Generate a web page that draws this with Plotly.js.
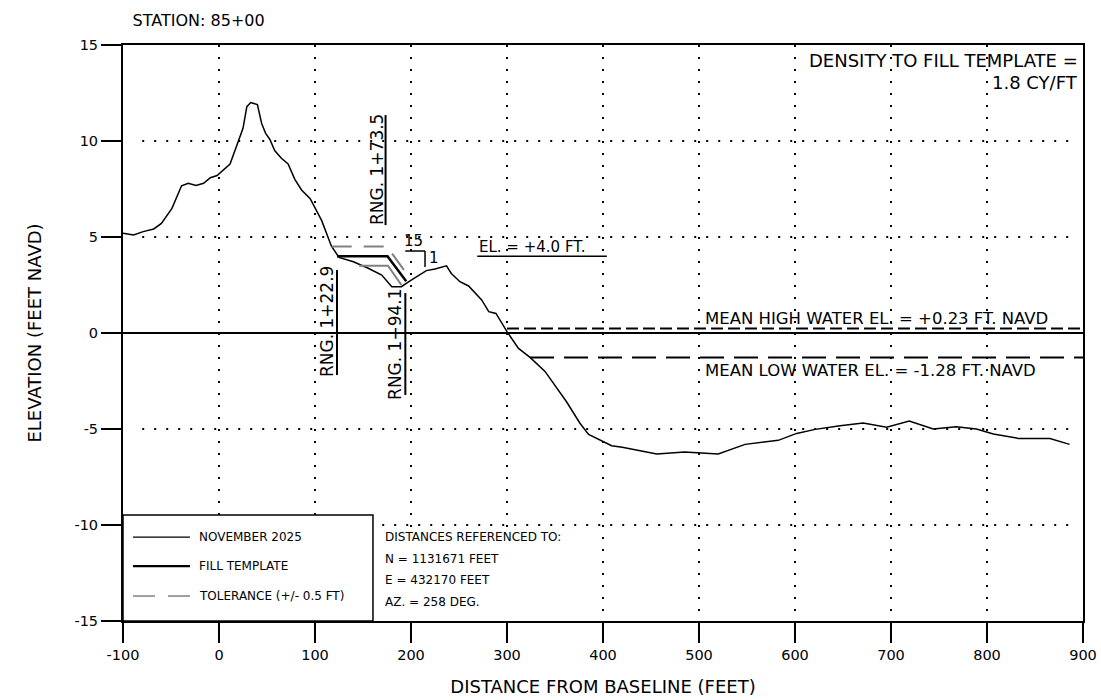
<!DOCTYPE html>
<html>
<head>
<meta charset="utf-8">
<script src="https://cdn.plot.ly/plotly-3.0.1.min.js"></script>
<style>html,body{margin:0;padding:0;background:#fff;}#chart{width:1101px;height:700px;}</style>
</head>
<body>
<div id="chart"></div>
<script>
// ---- Data ----
const profileX = [-100,-89,-79,-68,-60,-49,-39,-32,-24,-16,-9,-2,11.5,18,25,29,33,40,44.5,48.6,53,58,65,72,79,86,95,107,117,125,140,155.5,169.5,180,190,199,209,216,225,237,242,251,260,273.6,281,288.5,300,312,324,339.6,362,376,385,397,409,420,431.6,456,485,520,548,582.6,601.7,621,647,671,695.5,719,744,768,789,806.6,832.6,865.6,886];
const profileY = [5.2,5.1,5.28,5.42,5.71,6.49,7.67,7.8,7.69,7.8,8.09,8.2,8.8,9.7,10.66,11.79,12.0,11.9,10.9,10.4,10.08,9.5,9.1,8.8,8.0,7.45,7.0,5.85,4.53,3.94,3.71,3.37,3.02,2.41,2.41,2.72,3.02,3.25,3.33,3.5,3.1,2.67,2.45,1.72,1.11,1.02,0.07,-0.8,-1.27,-2.0,-3.58,-4.7,-5.28,-5.57,-5.87,-5.95,-6.06,-6.3,-6.2,-6.3,-5.8,-5.59,-5.23,-5.02,-4.83,-4.69,-4.91,-4.58,-5.0,-4.88,-5.0,-5.26,-5.49,-5.49,-5.8];

const templateX = [122.9, 175.5, 195];
const templateY = [4.0, 4.0, 2.7];
const tolUpperX = [117.4, 175, 199];
const tolUpperY = [4.5, 4.5, 2.85];
const tolLowerX = [146, 176, 190];
const tolLowerY = [3.5, 3.5, 2.5];

const mhwX = [300, 900];
const mhwEl = 0.23;
const mlwX = [324, 900];
const mlwEl = -1.28;

const rangeStations = [122.9, 173.5, 194.1];
const rangeLabels = ["RNG. 1+22.9", "RNG. 1+73.5", "RNG. 1+94.1"];

const xTicks = [-100,0,100,200,300,400,500,600,700,800,900];
const yTicks = [-15,-10,-5,0,5,10,15];
const gridX = [0,100,200,300,400,500,600,700,800];
const gridY = [10,5,-5,-10];

const legendItems = ["NOVEMBER 2025", "FILL TEMPLATE", "TOLERANCE (+/- 0.5 FT)"];
const refLines = ["DISTANCES REFERENCED TO:", "N = 1131671 FEET", "E = 432170 FEET", "AZ. = 258 DEG."];

// ---- Styling ----
const FONT = "DejaVu Sans, Verdana, sans-serif";
const GRAY = "#808080";
const DOT = "2px,10px";

const traces = [
  {x: profileX, y: profileY, mode: "lines", line: {color: "#000", width: 1.5}, name: legendItems[0]},
  {x: templateX, y: templateY, mode: "lines", line: {color: "#000", width: 2.5}, name: legendItems[1]},
  {x: tolUpperX, y: tolUpperY, mode: "lines", line: {color: GRAY, width: 2, dash: "20px,12px"}, name: legendItems[2]},
  {x: tolLowerX, y: tolLowerY, mode: "lines", line: {color: GRAY, width: 2}, name: legendItems[2]},
  {x: mhwX, y: mhwX.map(() => mhwEl), mode: "lines", line: {color: "#000", width: 2, dash: "12px,5px"}, name: "MHW"},
  {x: mlwX, y: mlwX.map(() => mlwEl), mode: "lines", line: {color: "#000", width: 2, dash: "24px,10px"}, name: "MLW"}
];

const shapes = [];
gridX.forEach(gx => {
  const bottom = (gx === 200 || gx === 300) ? -10.1 : -15;
  shapes.push({type: "line", xref: "x", yref: "y", x0: gx, x1: gx, y0: 15, y1: bottom, layer: "below", line: {color: "#000", width: 2, dash: DOT}});
});
gridY.forEach(gy => {
  shapes.push({type: "line", xref: "x", yref: "y", x0: -80, x1: 885, y0: gy, y1: gy, layer: "below", line: {color: "#000", width: 2, dash: DOT}});
});
shapes.push({type: "rect", xref: "x", yref: "y", x0: 160.4, x1: 394.8, y0: -10.16, y1: -15, layer: "below", fillcolor: "#fff", line: {width: 0}});
shapes.push({type: "rect", xref: "x", yref: "y", x0: -100, x1: 160.4, y0: -9.48, y1: -15, layer: "above", fillcolor: "#fff", line: {color: "#000", width: 1.5}});
shapes.push({type: "line", xref: "x", yref: "y", x0: -89.6, x1: -30.2, y0: -10.63, y1: -10.63, line: {color: "#000", width: 1.2}});
shapes.push({type: "line", xref: "x", yref: "y", x0: -89.6, x1: -30.2, y0: -12.14, y1: -12.14, line: {color: "#000", width: 2.2}});
shapes.push({type: "line", xref: "x", yref: "y", x0: -89.6, x1: -66.7, y0: -13.7, y1: -13.7, line: {color: GRAY, width: 1.5}});
shapes.push({type: "line", xref: "x", yref: "y", x0: -53.1, x1: -30.2, y0: -13.7, y1: -13.7, line: {color: GRAY, width: 1.5}});
const rngSpans = [[3.28, -2.19], [11.35, 5.62], [2.08, -3.23]];
rangeStations.forEach((s, i) => {
  shapes.push({type: "line", xref: "x", yref: "y", x0: s, x1: s, y0: rngSpans[i][0], y1: rngSpans[i][1], line: {color: "#000", width: 2}});
});
shapes.push({type: "line", xref: "x", yref: "y", x0: 269, x1: 404, y0: 4.0, y1: 4.0, line: {color: "#000", width: 1.5}});
shapes.push({type: "line", xref: "x", yref: "y", x0: 194, x1: 214.6, y0: 4.27, y1: 4.27, line: {color: "#000", width: 1.5}});
shapes.push({type: "line", xref: "x", yref: "y", x0: 214.6, x1: 214.6, y0: 4.27, y1: 3.44, line: {color: "#000", width: 1.5}});

const ann = [];
function A(o, size) { ann.push(Object.assign({xref: "x", yref: "y", showarrow: false, font: {family: FONT, size: size || 16, color: "#000"}}, o)); }
A({x: 900, y: 14.2, text: "DENSITY TO FILL TEMPLATE =", xanchor: "right", xshift: -3}, 18);
A({x: 900, y: 13.07, text: "1.8 CY/FT", xanchor: "right", xshift: -3}, 18);
A({x: 504, y: 0.78, text: "MEAN HIGH WATER EL. = +0.23 FT. NAVD", xanchor: "left"}, 16.5);
A({x: 504, y: -1.93, text: "MEAN LOW WATER EL. = -1.28 FT. NAVD", xanchor: "left"}, 16.5);
A({x: 269, y: 4.48, text: "EL. = +4.0 FT.", xanchor: "left"}, 15);
A({x: 203, y: 4.8, text: "15", xanchor: "center"}, 15);
A({x: 216.7, y: 3.9, text: "1", xanchor: "left"}, 15);
const rngText = [[112.5, 0.57], [164.6, 8.49], [183.3, -0.57]];
rangeLabels.forEach((t, i) => A({x: rngText[i][0], y: rngText[i][1], text: t, textangle: -90, xanchor: "center", yanchor: "middle"}, 17));
const legY = [-10.63, -12.14, -13.7];
legendItems.forEach((t, i) => A({x: -23, y: legY[i], text: t, xanchor: "left"}, 12));
const refY = [-10.63, -11.77, -12.86, -14.01];
refLines.forEach((t, i) => A({x: 170.8, y: refY[i], text: t, xanchor: "left"}, 12));

const layout = {
  width: 1101, height: 700,
  margin: {l: 123, r: 18, t: 45, b: 79},
  paper_bgcolor: "#fff", plot_bgcolor: "#fff",
  showlegend: false,
  font: {family: FONT, size: 14, color: "#000"},
  title: {text: "STATION: 85+00", font: {family: FONT, size: 16, color: "#000"}, xref: "paper", x: 0.01, xanchor: "left", yref: "container", y: 0.971, yanchor: "middle"},
  xaxis: {
    range: [-100, 900], tickmode: "array", tickvals: xTicks, ticktext: xTicks.map(String),
    ticks: "outside", ticklen: 20, tickwidth: 1.5, tickcolor: "#000",
    showline: true, linewidth: 2, linecolor: "#000", mirror: true,
    showgrid: false, zeroline: false,
    tickfont: {family: FONT, size: 14.5, color: "#000"},
    title: {text: "DISTANCE FROM BASELINE (FEET)", font: {family: FONT, size: 18, color: "#000"}, standoff: 18},
    automargin: false
  },
  yaxis: {
    range: [-15, 15], tickmode: "array", tickvals: yTicks, ticktext: yTicks.map(String),
    ticks: "outside", ticklen: 20, tickwidth: 1.5, tickcolor: "#000",
    showline: true, linewidth: 2, linecolor: "#000", mirror: true,
    showgrid: false, zeroline: true, zerolinecolor: "#000", zerolinewidth: 2,
    tickfont: {family: FONT, size: 14.5, color: "#000"},
    title: {text: "ELEVATION (FEET NAVD)", font: {family: FONT, size: 18, color: "#000"}, standoff: 28},
    automargin: false
  },
  shapes: shapes,
  annotations: ann
};

Plotly.newPlot("chart", traces, layout, {displayModeBar: false, staticPlot: true});
</script>
</body>
</html>
